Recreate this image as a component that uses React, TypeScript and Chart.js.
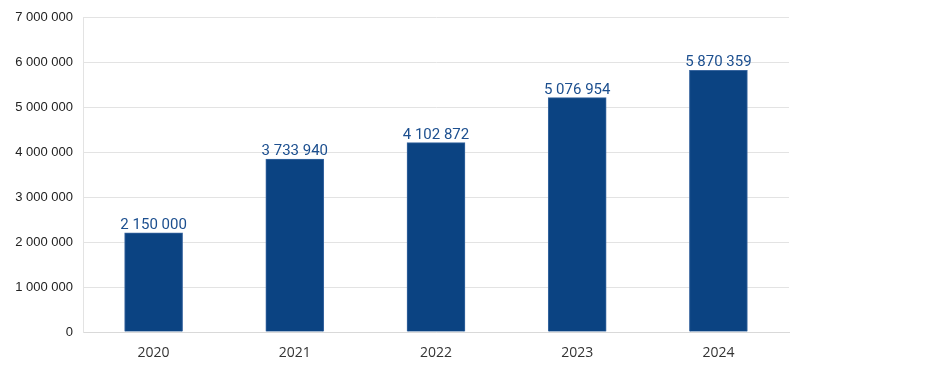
import React, { useEffect, useRef } from "react";
import { Chart, registerables } from "chart.js";

Chart.register(...registerables);

const categories = ["2020", "2021", "2022", "2023", "2024"];
// bar heights as drawn in the reference
const barValues = [2210000, 3850000, 4220000, 5220000, 5830000];
// value labels printed above the bars
const valueLabels = ["2 150 000", "3 733 940", "4 102 872", "5 076 954", "5 870 359"];
const yMax = 7000000;
const yStep = 1000000;

const fmt = (v: number) => String(Math.round(v)).replace(/\B(?=(\d{3})+(?!\d))/g, " ");

const labelPlugin = {
  id: "valueLabels",
  afterDatasetsDraw(chart: any) {
    const ctx = chart.ctx;
    const meta = chart.getDatasetMeta(0);
    ctx.save();
    ctx.font = "15px Roboto";
    ctx.fillStyle = "#1c4f8f";
    ctx.textAlign = "center";
    ctx.textBaseline = "alphabetic";
    meta.data.forEach((bar: any, i: number) => {
      ctx.fillText(valueLabels[i], bar.x, bar.y - 4);
    });
    ctx.restore();
  },
};

export default function App() {
  const ref = useRef<HTMLCanvasElement | null>(null);
  useEffect(() => {
    if (!ref.current) return;
    const chart = new Chart(ref.current, {
      type: "bar",
      data: {
        labels: categories,
        datasets: [
          {
            data: barValues,
            backgroundColor: "#0b4382",
            borderColor: "#3a67a0",
            borderWidth: 1,
            barThickness: 58,
          },
        ],
      },
      options: {
        responsive: false,
        animation: false,
        layout: { padding: { top: 17, right: 160, left: 0, bottom: 0 } },
        plugins: { legend: { display: false }, tooltip: { enabled: false } },
        scales: {
          x: {
            grid: { display: false, drawTicks: false },
            border: { color: "#d9d9d9" },
            ticks: { color: "#333", font: { family: "Open Sans", size: 14 }, padding: 13 },
            afterFit: (s: any) => { s.height = 51; },
          },
          y: {
            min: 0,
            max: yMax,
            grid: { color: "#e3e3e3", drawTicks: false },
            border: { color: "#e3e3e3" },
            ticks: {
              stepSize: yStep,
              color: "#222",
              font: { family: "Liberation Sans", size: 13 },
              padding: 10,
              callback: (v: any) => fmt(Number(v)),
            },
            afterFit: (s: any) => { s.width = 83; },
          },
        },
      },
      plugins: [labelPlugin],
    });
    return () => chart.destroy();
  }, []);
  return (
    <div style={{ position: "fixed", left: 0, top: 0, width: 949, height: 383, background: "#fff" }}>
      <canvas ref={ref} width={949} height={383} />
    </div>
  );
}
